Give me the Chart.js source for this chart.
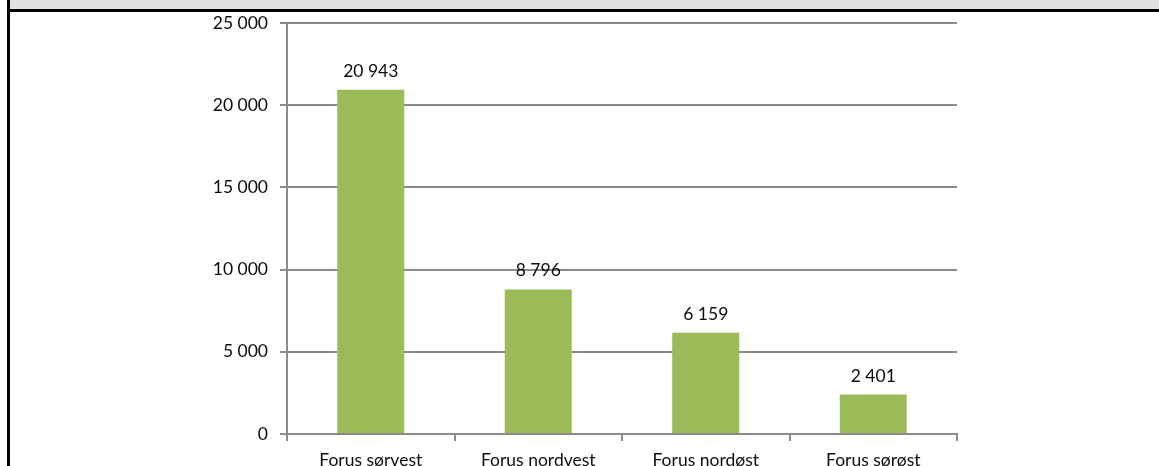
<!DOCTYPE html>
<html>
<head>
<meta charset="utf-8">
<title>Forus</title>
<script src="https://cdn.jsdelivr.net/npm/chart.js@4.4.1/dist/chart.umd.min.js"></script>
<style>
    html, body { margin: 0; padding: 0; width: 1159px; height: 466px; overflow: hidden; background: #fff; }
    #chart-wrap { position: absolute; left: 0; top: 0; width: 1159px; height: 500px; }
    /* window frame around the chart */
    #frame-top { position: absolute; left: 10px; top: 0; width: 1149px; height: 9px; background: #e0e0e0; }
    #frame-rule { position: absolute; left: 7px; top: 9px; width: 1152px; height: 3px; background: #000; }
    #frame-left { position: absolute; left: 7px; top: 0; width: 3px; height: 466px; background: #000; }
</style>
</head>
<body>
<div id="chart-wrap"><canvas id="forusChart" width="1159" height="500"></canvas></div>
<div id="frame-top"></div>
<div id="frame-rule"></div>
<div id="frame-left"></div>

<script>
// Areas and counts
const areas = ['Forus sørvest', 'Forus nordvest', 'Forus nordøst', 'Forus sørøst'];
const counts = [20943, 8796, 6159, 2401];
const yTicks = [0, 5000, 10000, 15000, 20000, 25000];

const FONT = 'Lato, "Open Sans", sans-serif';
const TEXT = '#0d0d0d';
const GRID = '#8a8a8a';
const BAR = '#9bbb59';

// Norwegian style thousands separator: "20 943"
function formatNumber(value) {
    return String(value).replace(/\B(?=(\d{3})+(?!\d))/g, ' ');
}

// Draws the value above each bar
const barValueLabels = {
    id: 'barValueLabels',
    afterDatasetsDraw(chart) {
        const ctx = chart.ctx;
        const meta = chart.getDatasetMeta(0);
        ctx.save();
        ctx.font = '17.5px ' + FONT;
        ctx.fillStyle = TEXT;
        ctx.textAlign = 'center';
        ctx.textBaseline = 'alphabetic';
        meta.data.forEach((bar, i) => {
            ctx.fillText(formatNumber(counts[i]), bar.x, bar.y - 13);
        });
        ctx.restore();
    }
};

new Chart(document.getElementById('forusChart').getContext('2d'), {
    type: 'bar',
    data: {
        labels: areas,
        datasets: [{
            data: counts,
            backgroundColor: BAR,
            borderWidth: 0,
            categoryPercentage: 1,
            barPercentage: 0.4
        }]
    },
    options: {
        responsive: false,
        animation: false,
        layout: { padding: { left: 0, right: 202, top: 23, bottom: 0 } },
        plugins: {
            legend: { display: false },
            tooltip: { enabled: false }
        },
        scales: {
            x: {
                grid: { drawOnChartArea: false, drawTicks: true, tickLength: 7, color: GRID, lineWidth: 2 },
                border: { color: GRID, width: 2 },
                ticks: {
                    color: TEXT,
                    font: { family: FONT, size: 17.5 },
                    padding: 9,
                    maxRotation: 0,
                    autoSkip: false
                },
                afterFit(scale) { scale.height = 66; }
            },
            y: {
                min: yTicks[0],
                max: yTicks[yTicks.length - 1],
                afterBuildTicks(scale) { scale.ticks = yTicks.map(v => ({ value: v })); },
                grid: { color: GRID, lineWidth: 2, tickLength: 7 },
                border: { color: GRID, width: 2 },
                ticks: {
                    color: TEXT,
                    font: { family: FONT, size: 17.5 },
                    padding: 12,
                    callback: value => formatNumber(value)
                },
                afterFit(scale) { scale.width = 287; }
            }
        }
    },
    plugins: [barValueLabels]
});
</script>
</body>
</html>
